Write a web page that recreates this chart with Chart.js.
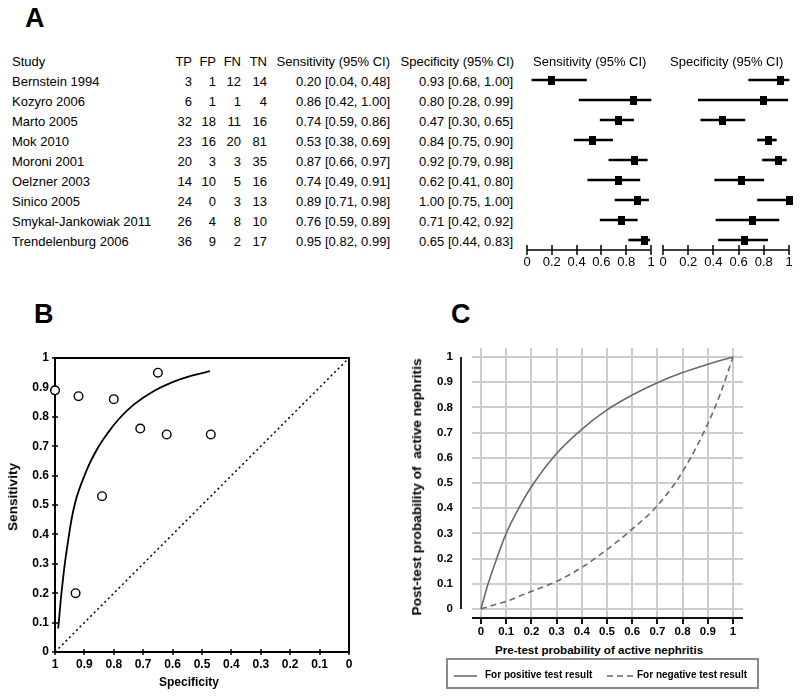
<!DOCTYPE html>
<html>
<head>
<meta charset="utf-8">
<script src="https://cdn.jsdelivr.net/npm/chart.js@4.4.1/dist/chart.umd.min.js"></script>
<style>
html,body{margin:0;padding:0;background:#fff;}
#fig{position:relative;width:800px;height:696px;overflow:hidden;font-family:"Liberation Sans",Arial,Helvetica,sans-serif;color:#000;background:#fff;}
.t{position:absolute;white-space:nowrap;font-size:13px;line-height:13px;}
.lab{position:absolute;font-weight:bold;font-size:27px;line-height:27px;}
.bt{position:absolute;white-space:nowrap;font-weight:bold;}
.rot{position:absolute;white-space:nowrap;font-weight:bold;transform:translate(-50%,-50%) rotate(-90deg);}
canvas{position:absolute;}
</style>
</head>
<body>
<div id="fig">
  <div class="lab" style="left:25px;top:5px;">A</div>
  <div class="lab" style="left:34px;top:301px;">B</div>
  <div class="lab" style="left:451px;top:301px;">C</div>

  <canvas id="fs" width="144" height="215" style="left:517px;top:60px;"></canvas>
  <canvas id="fp" width="146" height="215" style="left:653px;top:60px;"></canvas>
  <canvas id="cb" width="370" height="345" style="left:0px;top:340px;"></canvas>
  <canvas id="cc" width="400" height="310" style="left:400px;top:330px;"></canvas>

  <div class="rot" style="left:13px;top:497px;font-size:13.6px;line-height:13.6px;">Sensitivity</div>
  <div class="bt" style="left:159px;top:676px;font-size:12px;line-height:12px;">Specificity</div>

  <div class="rot" style="left:417px;top:487px;font-size:13.7px;line-height:13.7px;">Post-test probability of&nbsp; active nephritis</div>
  <div class="bt" style="left:495px;top:644px;font-size:11.6px;line-height:11.6px;">Pre-test probability of active nephritis</div>

  <div style="position:absolute;left:446px;top:658px;width:309px;height:27px;border:2px solid #8a8a8a;"></div>
  <svg style="position:absolute;left:450px;top:670px;" width="30" height="12"><line x1="4" y1="6" x2="27" y2="6" stroke="#6a6a6a" stroke-width="1.6"/></svg>
  <div class="bt" style="left:485px;top:670px;font-size:10px;line-height:10px;">For positive test result</div>
  <svg style="position:absolute;left:604px;top:670px;" width="32" height="12"><line x1="3" y1="6" x2="29" y2="6" stroke="#6a6a6a" stroke-width="1.6" stroke-dasharray="6 4"/></svg>
  <div class="bt" style="left:637px;top:670px;font-size:10px;line-height:10px;">For negative test result</div>
</div>
<script>
// ---------- data (panel A) ----------
const studies = ["Bernstein 1994","Kozyro 2006","Marto 2005","Mok 2010","Moroni 2001","Oelzner 2003","Sinico 2005","Smykal-Jankowiak 2011","Trendelenburg 2006"];
const tp = [3, 6, 32, 23, 20, 14, 24, 26, 36];
const fp = [1, 1, 18, 16, 3, 10, 0, 4, 9];
const fn = [12, 1, 11, 20, 3, 5, 3, 8, 2];
const tn = [14, 4, 16, 81, 35, 16, 13, 10, 17];
const sens   = [0.20, 0.86, 0.74, 0.53, 0.87, 0.74, 0.89, 0.76, 0.95];
const sensLo = [0.04, 0.42, 0.59, 0.38, 0.66, 0.49, 0.71, 0.59, 0.82];
const sensHi = [0.48, 1.00, 0.86, 0.69, 0.97, 0.91, 0.98, 0.89, 0.99];
const spec   = [0.93, 0.80, 0.47, 0.84, 0.92, 0.62, 1.00, 0.71, 0.65];
const specLo = [0.68, 0.28, 0.30, 0.75, 0.79, 0.41, 0.75, 0.42, 0.44];
const specHi = [1.00, 0.99, 0.65, 0.90, 0.98, 0.80, 1.00, 0.92, 0.83];
const forestTicks = [0, 0.2, 0.4, 0.6, 0.8, 1];

// ---------- data (panel B) ----------
const srocSpec = [0.989, 0.977, 0.960, 0.932, 0.892, 0.858, 0.824, 0.785, 0.730, 0.665, 0.600, 0.535, 0.473];
const srocSens = [0.080, 0.210, 0.347, 0.506, 0.619, 0.688, 0.740, 0.790, 0.843, 0.887, 0.918, 0.940, 0.955];
const diagSpec = [1, 0];
const diagSens = [0, 1];
const bTicks = [0, 0.1, 0.2, 0.3, 0.4, 0.5, 0.6, 0.7, 0.8, 0.9, 1];

// ---------- data (panel C) ----------
const preTest = [0, 0.025, 0.05, 0.1, 0.15, 0.2, 0.3, 0.4, 0.5, 0.6, 0.7, 0.8, 0.9, 0.95, 1];
const postPos = [0, 0.09, 0.165, 0.30, 0.40, 0.485, 0.617, 0.713, 0.79, 0.849, 0.898, 0.938, 0.971, 0.986, 1];
const postNeg = [0, 0.008, 0.016, 0.030, 0.050, 0.070, 0.110, 0.165, 0.236, 0.317, 0.410, 0.545, 0.735, 0.855, 1];
const cTicks = [0, 0.1, 0.2, 0.3, 0.4, 0.5, 0.6, 0.7, 0.8, 0.9, 1];

// ---------- table text ----------
const fig = document.getElementById('fig');
function txt(s, css) {
  const d = document.createElement('div');
  d.className = 't';
  d.textContent = s;
  Object.assign(d.style, css);
  fig.appendChild(d);
  return d;
}
const headTop = 55, rowTop = 75, rowStep = 20;
const rt = (edge) => (800 - edge) + 'px';
txt('Study', {left: '12px', top: headTop + 'px'});
studies.forEach((s, i) => txt(s, {left: '12px', top: (rowTop + i * rowStep) + 'px'}));
[['TP', tp, 192], ['FP', fp, 216], ['FN', fn, 241], ['TN', tn, 267]].forEach(([h, arr, edge]) => {
  txt(h, {right: rt(edge), top: headTop + 'px'});
  arr.forEach((v, i) => txt(String(v), {right: rt(edge), top: (rowTop + i * rowStep) + 'px'}));
});
const f2 = v => v.toFixed(2);
txt('Sensitivity (95% CI)', {right: rt(390), top: headTop + 'px'});
sens.forEach((v, i) => txt(`${f2(v)} [${f2(sensLo[i])}, ${f2(sensHi[i])}]`, {right: rt(390), top: (rowTop + i * rowStep) + 'px'}));
txt('Specificity (95% CI)', {right: rt(514), top: headTop + 'px'});
spec.forEach((v, i) => txt(`${f2(v)} [${f2(specLo[i])}, ${f2(specHi[i])}]`, {right: rt(513), top: (rowTop + i * rowStep) + 'px'}));
txt('Sensitivity (95% CI)', {left: '533px', top: headTop + 'px'});
txt('Specificity (95% CI)', {left: '670px', top: headTop + 'px'});

// ---------- Chart.js ----------
Chart.defaults.font.family = '"Liberation Sans", Arial, Helvetica, sans-serif';
Chart.defaults.color = '#000';

function seg(ctx, x1, y1, x2, y2) {
  ctx.beginPath(); ctx.moveTo(x1, y1); ctx.lineTo(x2, y2); ctx.stroke();
}
// keep the layout from adding label overflow to the fixed margins
function fixX(h) { return s => { s.height = h; s.paddingLeft = 0; s.paddingRight = 0; s.paddingTop = 0; s.paddingBottom = 0; }; }
function fixY(w) { return s => { s.width = w; s.paddingLeft = 0; s.paddingRight = 0; s.paddingTop = 0; s.paddingBottom = 0; }; }

// axis decorations; configuration captured in a closure
function deco(cfg) {
  return {
    id: 'deco',
    beforeDatasetsDraw(chart) {
      const ctx = chart.ctx, a = chart.chartArea, sx = chart.scales.x, sy = chart.scales.y;
      ctx.save();
      if (cfg.grid) {
        ctx.strokeStyle = cfg.grid.color;
        ctx.lineWidth = cfg.grid.w;
        sx.ticks.forEach(t => {
          const px = Math.round(sx.getPixelForValue(t.value));
          seg(ctx, px, a.top, px, a.bottom);
        });
        sy.ticks.forEach(t => {
          const py = Math.round(sy.getPixelForValue(t.value));
          seg(ctx, a.left, py, a.right, py);
        });
      }
      if (cfg.frame) {
        ctx.strokeStyle = '#000';
        ctx.lineWidth = cfg.frame;
        ctx.strokeRect(a.left, a.top, a.right - a.left, a.bottom - a.top);
      }
      if (cfg.xAxis) {
        ctx.strokeStyle = cfg.xAxis.color;
        ctx.lineWidth = cfg.xAxis.w;
        seg(ctx, a.left, a.bottom, a.right, a.bottom);
      }
      if (cfg.xTick) {
        ctx.strokeStyle = cfg.xTick.color;
        ctx.lineWidth = cfg.xTick.w;
        sx.ticks.forEach(t => {
          const px = Math.round(sx.getPixelForValue(t.value));
          seg(ctx, px, a.bottom - cfg.xTick.up, px, a.bottom + cfg.xTick.down);
        });
      }
      if (cfg.yTick) {
        ctx.strokeStyle = cfg.yTick.color;
        ctx.lineWidth = cfg.yTick.w;
        sy.ticks.forEach(t => {
          const py = Math.round(sy.getPixelForValue(t.value));
          seg(ctx, a.left - cfg.yTick.out, py, a.left + cfg.yTick.in, py);
        });
      }
      if (cfg.yLine) {
        const x = a.left - cfg.yLine.gap;
        ctx.lineWidth = cfg.yLine.w;
        ctx.strokeStyle = cfg.yLine.color;
        seg(ctx, x, sy.getPixelForValue(cfg.yLine.from), x, sy.getPixelForValue(cfg.yLine.to));
      }
      ctx.restore();
    }
  };
}

function rectImg(w, h) {
  const c = document.createElement('canvas');
  c.width = w; c.height = h;
  const g = c.getContext('2d');
  g.fillStyle = '#000';
  g.fillRect(0, 0, w, h);
  return c;
}
const sq = rectImg(7, 9);
const fmt1 = v => String(Math.round(v * 10) / 10);

function forest(id, est, lo, hi) {
  new Chart(document.getElementById(id), {
    type: 'bar',
    data: {
      labels: studies,
      datasets: [
        {type: 'line', data: est, showLine: false, pointStyle: sq, pointRadius: 5, pointHoverRadius: 5, indexAxis: 'y', clip: false},
        {type: 'bar', data: lo.map((l, i) => [l, hi[i]]), backgroundColor: '#000', barThickness: 2, borderWidth: 0, indexAxis: 'y', clip: false}
      ]
    },
    options: {
      indexAxis: 'y', responsive: false, animation: false, events: [],
      layout: {padding: {left: 10, right: 10, top: 10, bottom: 0}},
      plugins: {legend: {display: false}, tooltip: {enabled: false}},
      scales: {
        x: {
          type: 'linear', min: 0, max: 1,
          afterBuildTicks: s => { s.ticks = forestTicks.map(v => ({value: v})); },
          ticks: {callback: v => fmt1(v), padding: 5, font: {size: 13}, color: '#000', maxRotation: 0, autoSkip: false},
          grid: {display: false, drawTicks: false, tickLength: 0},
          border: {display: false},
          afterFit: fixX(25)
        },
        y: {type: 'category', display: false}
      }
    },
    plugins: [deco({xAxis: {color: '#000', w: 1.5}, xTick: {up: 5, down: 5, w: 1.5, color: '#000'}})]
  });
}
forest('fs', sens, sensLo, sensHi);
forest('fp', spec, specLo, specHi);

// Panel B
new Chart(document.getElementById('cb'), {
  type: 'scatter',
  data: {
    datasets: [
      {type: 'scatter', data: spec.map((x, i) => ({x: x, y: sens[i]})), pointStyle: 'circle', pointRadius: 4.3, pointHoverRadius: 4.3,
       borderColor: '#000', borderWidth: 1.4, backgroundColor: '#fff', clip: false},
      {type: 'line', data: srocSpec.map((x, i) => ({x: x, y: srocSens[i]})), borderColor: '#000', borderWidth: 1.8,
       pointRadius: 0, tension: 0.4, fill: false, clip: false},
      {type: 'line', data: diagSpec.map((x, i) => ({x: x, y: diagSens[i]})), borderColor: '#000', borderWidth: 1.5,
       borderDash: [2, 3], pointRadius: 0, fill: false}
    ]
  },
  options: {
    responsive: false, animation: false, events: [],
    layout: {padding: {left: 0, right: 21, top: 18, bottom: 0}},
    plugins: {legend: {display: false}, tooltip: {enabled: false}},
    scales: {
      x: {
        type: 'linear', reverse: true, min: 0, max: 1,
        afterBuildTicks: s => { s.ticks = bTicks.map(v => ({value: v})); },
        ticks: {callback: v => fmt1(v), padding: 5.5, font: {size: 12, weight: 'bold'}, color: '#000', maxRotation: 0, autoSkip: false},
        grid: {display: false, drawTicks: false, tickLength: 0},
        border: {display: false},
        afterFit: fixX(33)
      },
      y: {
        type: 'linear', min: 0, max: 1,
        afterBuildTicks: s => { s.ticks = bTicks.map(v => ({value: v})); },
        ticks: {callback: v => fmt1(v), padding: 6, font: {size: 12, weight: 'bold'}, color: '#000', autoSkip: false},
        grid: {display: false, drawTicks: false, tickLength: 0},
        border: {display: false},
        afterFit: fixY(55)
      }
    }
  },
  plugins: [deco({frame: 2, xTick: {up: 3, down: 3, w: 1.5, color: '#000'}, yTick: {out: 3, in: 3, w: 1.5, color: '#000'}})]
});

// Panel C
new Chart(document.getElementById('cc'), {
  type: 'line',
  data: {
    datasets: [
      {data: preTest.map((x, i) => ({x: x, y: postPos[i]})), borderColor: '#6a6a6a', borderWidth: 1.6, pointRadius: 0,
       cubicInterpolationMode: 'monotone', fill: false},
      {data: preTest.map((x, i) => ({x: x, y: postNeg[i]})), borderColor: '#6a6a6a', borderWidth: 1.6, borderDash: [6, 4],
       pointRadius: 0, cubicInterpolationMode: 'monotone', fill: false}
    ]
  },
  options: {
    responsive: false, animation: false, events: [],
    layout: {padding: {left: 0, right: 57, top: 18, bottom: 0}},
    plugins: {legend: {display: false}, tooltip: {enabled: false}},
    scales: {
      x: {
        type: 'linear', min: -0.0357, max: 1.0397,
        afterBuildTicks: s => { s.ticks = cTicks.map(v => ({value: v})); },
        ticks: {callback: v => fmt1(v), padding: 7, font: {size: 11.5, weight: 'bold'}, color: '#000', maxRotation: 0, autoSkip: false},
        grid: {display: false, drawTicks: false, tickLength: 0},
        border: {display: false},
        afterFit: fixX(22)
      },
      y: {
        type: 'linear', min: -0.0357, max: 1.0357,
        afterBuildTicks: s => { s.ticks = cTicks.map(v => ({value: v})); },
        ticks: {callback: v => fmt1(v), padding: 19, font: {size: 11.5, weight: 'bold'}, color: '#000', autoSkip: false},
        grid: {display: false, drawTicks: false, tickLength: 0},
        border: {display: false},
        afterFit: fixY(72)
      }
    }
  },
  plugins: [deco({grid: {color: '#cdcdcd', w: 2},
                  xAxis: {color: '#111', w: 2},
                  xTick: {up: 0, down: 6, w: 2, color: '#111'},
                  yLine: {gap: 11, from: 1, to: 0, w: 2, color: '#222'}})]
});
</script>
</body>
</html>
